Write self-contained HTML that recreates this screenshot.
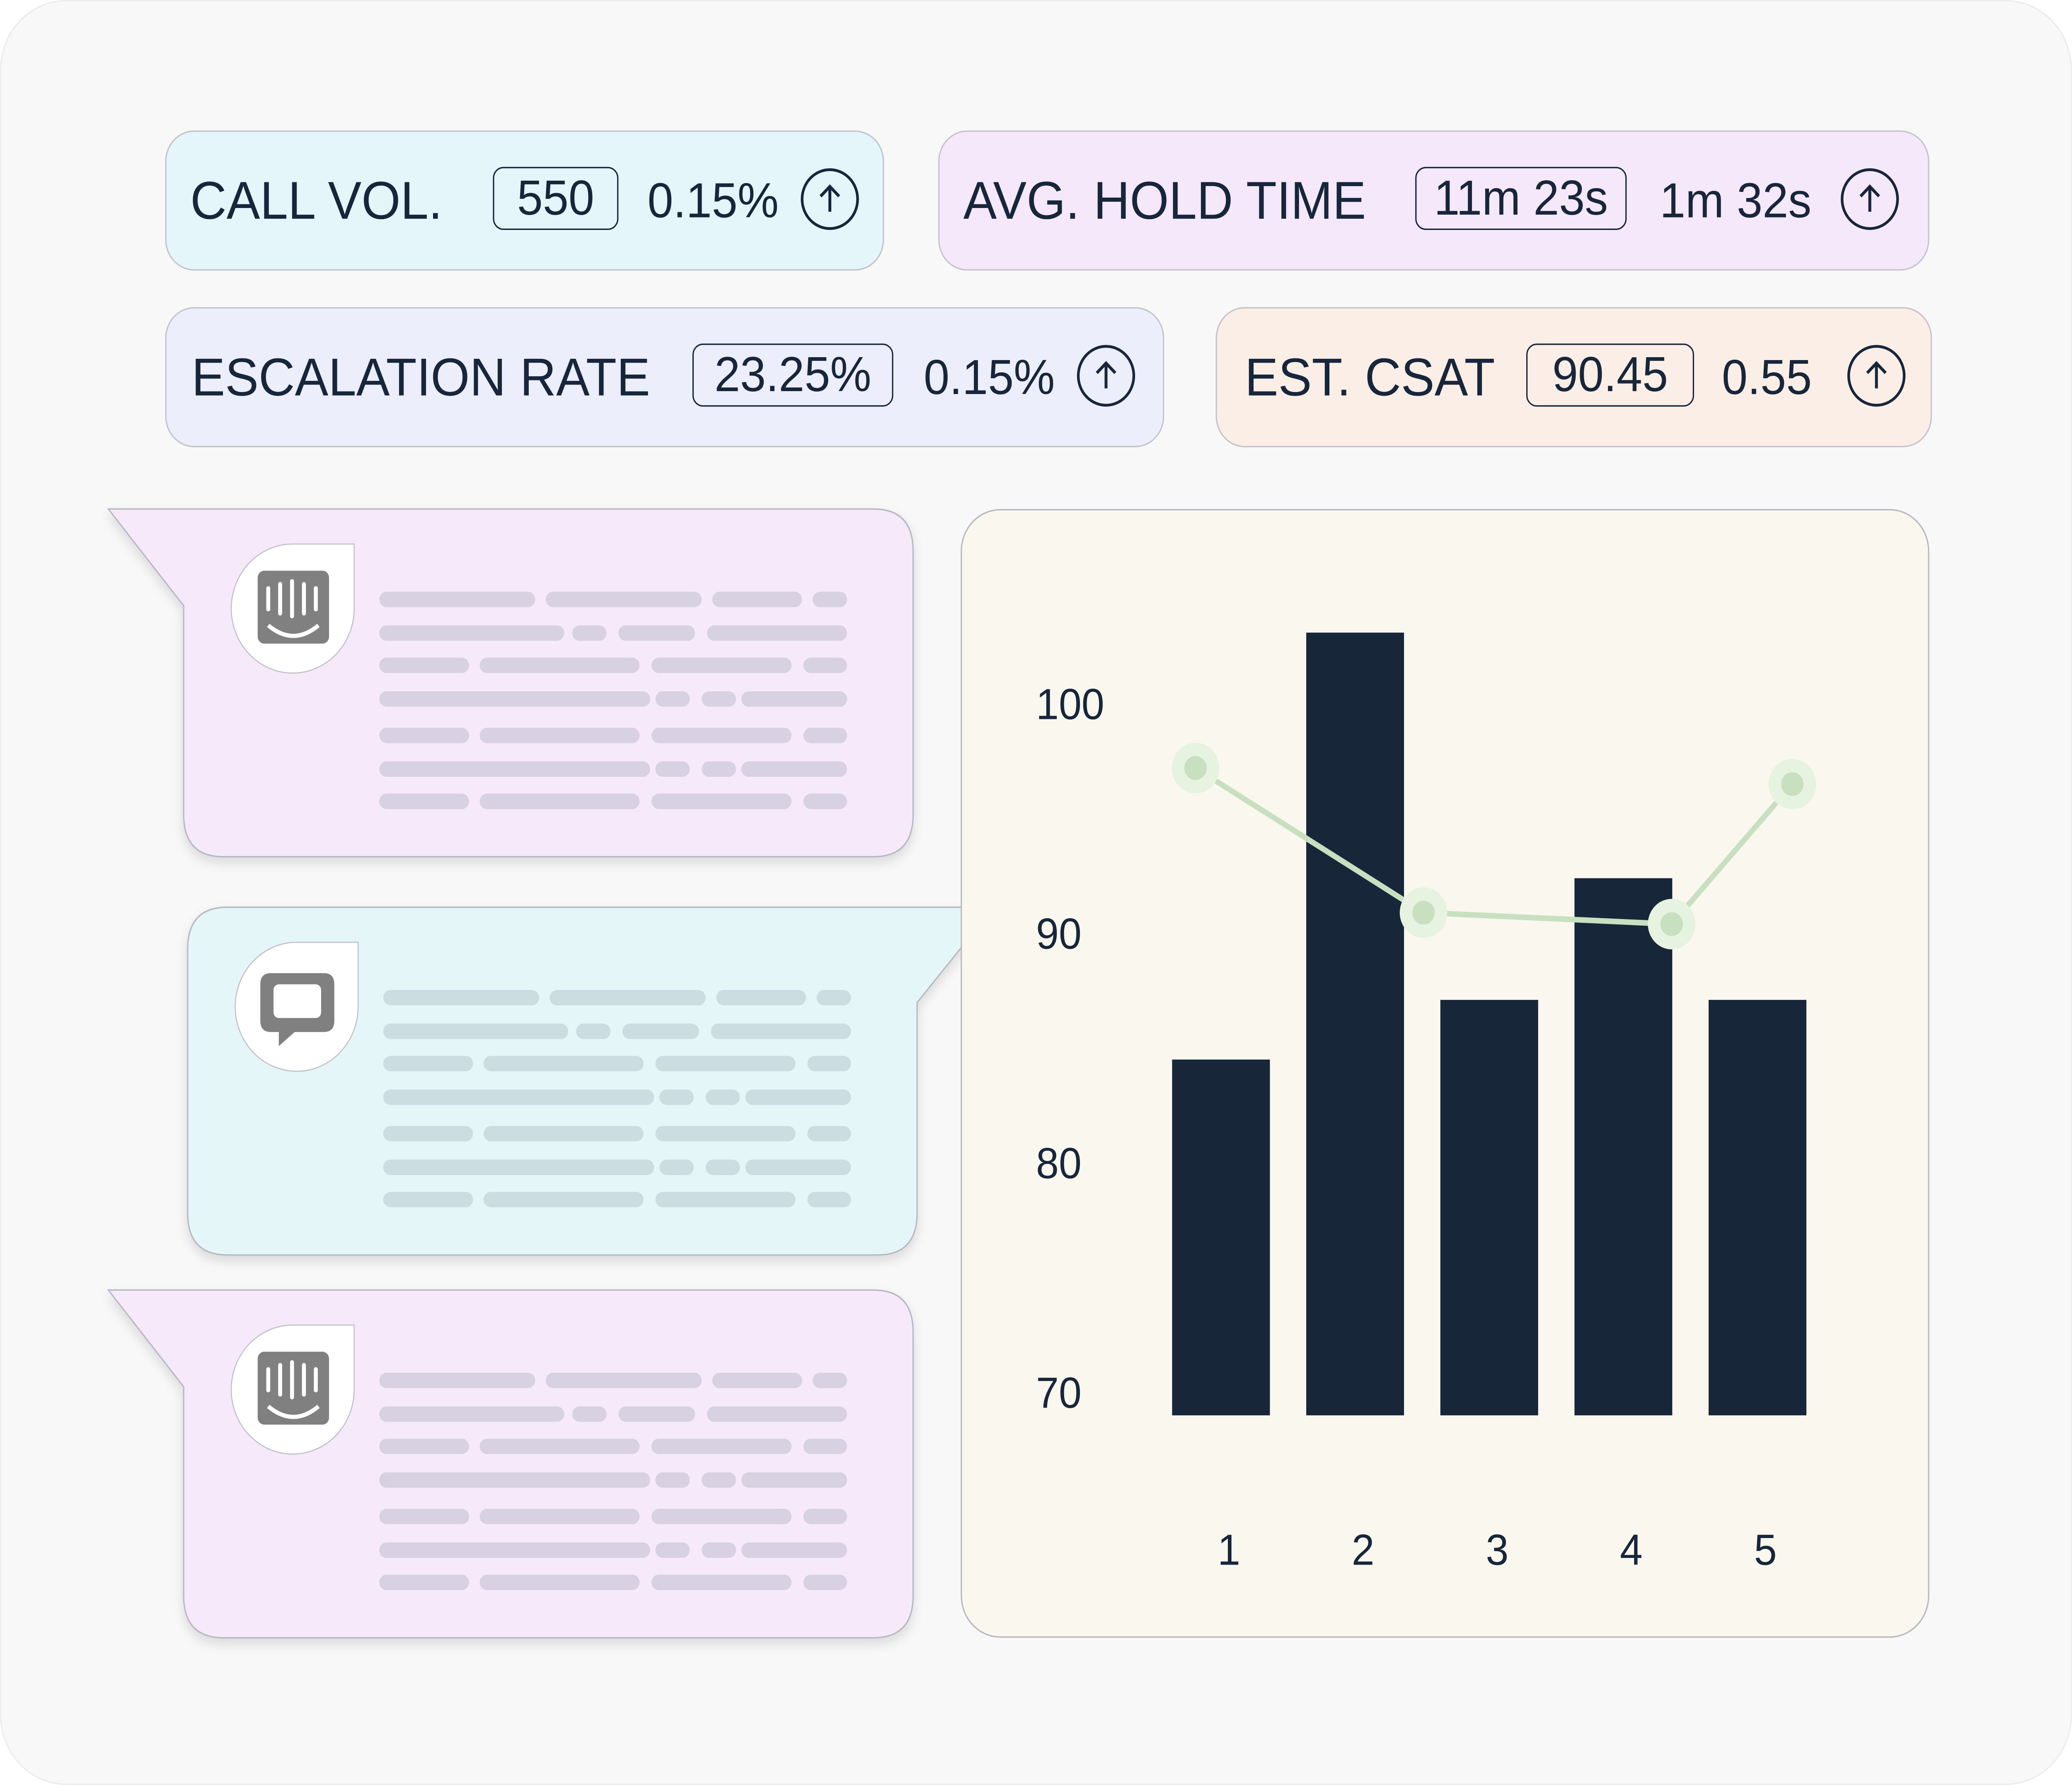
<!DOCTYPE html>
<html><head><meta charset="utf-8">
<style>
html,body{margin:0;padding:0;width:100%;height:100%;overflow:hidden;background:#ffffff;}
#wrap{position:absolute;left:0;top:0;width:1568px;height:1273px;transform:scale(3.3833,3.3841);transform-origin:0 0;font-family:"Liberation Sans",sans-serif;color:#17263a;}
.bg{position:absolute;left:0;top:0;width:1566px;height:1271px;border-radius:50px;background:#f8f8f8;border:1px solid #ececec;}
.card{position:absolute;height:100px;border:1px solid #c4c4cc;border-radius:22px;box-sizing:border-box;}
.card span{position:absolute;top:0;line-height:100px;white-space:nowrap;}
.lbl{font-size:38px;}
.badge{position:absolute;top:25px;height:45px;border:1.3px solid #17263a;border-radius:8px;box-sizing:border-box;font-size:35px;line-height:43px;text-align:center;}
.val{font-size:35px;}
.circ{position:absolute;top:26px;width:44px;height:44px;border:2px solid #17263a;border-radius:50%;box-sizing:border-box;}
</style></head><body>
<div id="wrap">
<div class="bg"></div>

<div class="card" style="left:125px;top:93px;width:544px;background:#e4f6f9">
 <span class="lbl" style="left:18px">CALL VOL.</span>
 <div class="badge" style="left:247px;width:95px">550</div>
 <span class="val" style="left:364px">0.15%</span>
 <svg class="circ" style="left:480px" viewBox="0 0 40 40"><path d="M20 29V11M13 18l7-7 7 7" fill="none" stroke="#17263a" stroke-width="2.2"/></svg>
</div>
<div class="card" style="left:710px;top:93px;width:750px;background:#f5e8fa">
 <span class="lbl" style="left:18px">AVG. HOLD TIME</span>
 <div class="badge" style="left:360px;width:160px">11m 23s</div>
 <span class="val" style="left:545px">1m 32s</span>
 <svg class="circ" style="left:682px" viewBox="0 0 40 40"><path d="M20 29V11M13 18l7-7 7 7" fill="none" stroke="#17263a" stroke-width="2.2"/></svg>
</div>
<div class="card" style="left:125px;top:219px;width:756px;background:#eceffb">
 <span class="lbl" style="left:19px">ESCALATION RATE</span>
 <div class="badge" style="left:398px;width:152px">23.25%</div>
 <span class="val" style="left:573px">0.15%</span>
 <svg class="circ" style="left:689px" viewBox="0 0 40 40"><path d="M20 29V11M13 18l7-7 7 7" fill="none" stroke="#17263a" stroke-width="2.2"/></svg>
</div>
<div class="card" style="left:920px;top:219px;width:542px;background:#fbeee6">
 <span class="lbl" style="left:21px">EST. CSAT</span>
 <div class="badge" style="left:234px;width:127px">90.45</div>
 <span class="val" style="left:382px">0.55</span>
 <svg class="circ" style="left:477px" viewBox="0 0 40 40"><path d="M20 29V11M13 18l7-7 7 7" fill="none" stroke="#17263a" stroke-width="2.2"/></svg>
</div>

<svg id="bubbles" style="position:absolute;left:0;top:0" width="1568" height="1273">
<defs><filter id="sh" x="-10%" y="-10%" width="120%" height="125%"><feDropShadow dx="0" dy="4" stdDeviation="4" flood-color="#000" flood-opacity="0.12"/></filter></defs>
</svg>

<div style="position:absolute;left:727px;top:363px;width:733px;height:805px;background:#faf8ee;border:1.3px solid #b8b8c0;border-radius:30px;box-sizing:border-box"></div>
<svg id="chart" style="position:absolute;left:0;top:0" width="1568" height="1273"></svg>
</div>
<script>
const categories = ["1","2","3","4","5"];
const barValues = [84.5, 103.1, 87.1, 92.4, 87.1];
const yTicks = [70, 80, 90, 100];
const linePos = [0.81, 2.51, 4.36, 5.26];
const lineValues = [97.2, 90.9, 90.4, 96.5];
const NS = "http://www.w3.org/2000/svg";
const yScale = v => 993 - (v - 70) * 16.37;
const xScale = i => 924 + (i - 1) * 101.5;
const base = 69;
const chart = document.getElementById('chart');
function fit(){
  const w = window.innerWidth || document.documentElement.clientWidth || 5305;
  const h = window.innerHeight || document.documentElement.clientHeight || 4308;
  document.getElementById('wrap').style.transform = 'scale(' + (w/1568) + ',' + (h/1273) + ')';
}
fit();
window.addEventListener('resize', fit);
function mk(tag, attrs, parent){const e=document.createElementNS(NS,tag);for(const k in attrs)e.setAttribute(k,attrs[k]);parent.appendChild(e);return e;}
yTicks.forEach(t=>{
  const e = mk('text',{x:784,y:yScale(t)+11,'font-size':31,fill:'#17263a','font-family':'Liberation Sans, sans-serif'},chart);
  e.textContent = t;
  
  
});
categories.forEach((c,i)=>{
  const r = mk('rect',{x:xScale(i+1)-37,y:yScale(barValues[i]),width:74,height:yScale(base)-yScale(barValues[i]),fill:'#172638'},chart);
  
  
  const t = mk('text',{x:xScale(i+1)+6,y:1116,'font-size':31,fill:'#17263a','text-anchor':'middle','font-family':'Liberation Sans, sans-serif'},chart);
  t.textContent = c;
  
  
});
const pts = linePos.map((p,i)=>[xScale(p), yScale(lineValues[i])]);
const pl = mk('polyline',{points:pts.map(p=>p.join(',')).join(' '),fill:'none',stroke:'#c8dfc0','stroke-width':4},chart);


pts.forEach(p=>{
  const o = mk('circle',{cx:p[0],cy:p[1],r:18,fill:'#e6f3e0'},chart);
  
  
  const c = mk('circle',{cx:p[0],cy:p[1],r:8.5,fill:'#c8dfc0'},chart);
  
  
});

const bsvg = document.getElementById('bubbles');
const rowsA=[[287,405],[413,531],[539,607],[615,641]];
const rowsB=[[287,427],[433,459],[468,526],[535,641]];
const rowsC=[[287,355],[363,484],[493,599],[608,641]];
const rowsD=[[287,492],[496,522],[531,557],[561,641]];
const pattern=[rowsA,rowsB,rowsC,rowsD,rowsC,rowsD,rowsC];
const rowOff=[0,24,47,71,97,121,144];
function bubble(y0, dx, fill, lineFill, tailRight, icon, name){
  const g = mk('g',{filter:'url(#sh)'},bsvg);
  
  
  const L=139+dx, R=691+dx, T=y0, B=y0+248, rr=30;
  let d;
  if(!tailRight){
    d=`M82 ${T} L${R-rr} ${T} Q${R} ${T} ${R} ${T+rr} L${R} ${B-rr} Q${R} ${B} ${R-rr} ${B} L${L+rr} ${B} Q${L} ${B} ${L} ${B-rr} L${L} ${T+69} Z`;
  } else {
    d=`M${L+rr} ${T} L752 ${T} L${R} ${T+68} L${R} ${B-rr} Q${R} ${B} ${R-rr} ${B} L${L+rr} ${B} Q${L} ${B} ${L} ${B-rr} L${L} ${T+rr} Q${L} ${T} ${L+rr} ${T} Z`;
  }
  mk('path',{d:d,fill:fill,stroke:'#b8b8c4','stroke-width':1},g);
  const ix=175+dx, iy=y0+25;
  const ic=mk('path',{d:`M${ix+93} ${iy} L${ix+93} ${iy+46} A46.5 46 0 1 1 ${ix+46.5} ${iy} Z`,fill:'#fff',stroke:'#c0c0c8','stroke-width':0.8},bsvg);
  
  
  const cx=ix+47, cy=iy+46;
  if(icon==='intercom'){
    mk('rect',{x:cx-27,y:cy-27,width:54,height:52,rx:5,fill:'#808080'},bsvg);
    [-19,-10,-1,8,17].forEach((o,k)=>{const h=(k===0||k===4)?18:(k===2?28:24);mk('rect',{x:cx+o-1.5,y:cy-19+(k===2?-2:(k===0||k===4?3:0)),width:3,height:h,rx:1.5,fill:'#fff'},bsvg);});
    mk('path',{d:`M${cx-19} ${cy+12} Q${cx} ${cy+27} ${cx+19} ${cy+12}`,fill:'none',stroke:'#fff','stroke-width':3},bsvg);
  } else {
    mk('path',{d:`M${cx-20} ${cy-24} h40 q8 0 8 8 v26 q0 8 -8 8 h-22 l-12 10 v-10 h-6 q-8 0 -8 -8 v-26 q0 -8 8 -8 z`,fill:'#808080'},bsvg);
    mk('rect',{x:cx-18,y:cy-16,width:36,height:24,rx:4,fill:'#fff'},bsvg);
  }
  const baseY = y0+59;
  pattern.forEach((row,ri)=>{
    row.forEach(seg=>{
      const r=mk('rect',{x:seg[0]+dx,y:baseY+rowOff[ri],width:seg[1]-seg[0],height:11,rx:5.5,fill:lineFill},bsvg);
      
      
    });
  });
}
bubble(363,0,'#f5e9fa','#d8d1e2',false,'intercom','chat-bubble-1');
bubble(647,3,'#e5f6f9','#cbdde1',true,'chat','chat-bubble-2');
bubble(920,0,'#f5e9fa','#d8d1e2',false,'intercom','chat-bubble-3');
</script>
</body></html>
